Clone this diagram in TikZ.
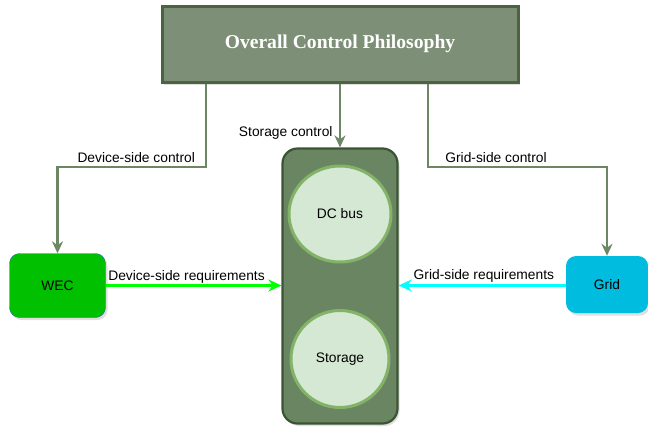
\documentclass[tikz,border=0pt]{standalone}
\usepackage{fontspec}
\setmainfont{Liberation Sans}
\newfontfamily\titlefont{Liberation Serif}
\usetikzlibrary{arrows.meta, shapes.geometric, shadows}

\definecolor{philofill}{HTML}{7D8F76}
\definecolor{philoline}{HTML}{4A6441}
\definecolor{ctrlline}{HTML}{6D8764}
\definecolor{bankfill}{HTML}{6A8561}
\definecolor{bankline}{HTML}{3B5534}
\definecolor{cellfill}{HTML}{D5E8D4}
\definecolor{cellline}{HTML}{82B366}
\definecolor{wecfill}{HTML}{00C000}
\definecolor{wecline}{HTML}{2F6DB5}
\definecolor{gridfill}{HTML}{00BCDF}
\definecolor{devneed}{HTML}{00FF00}
\definecolor{gridneed}{HTML}{00FFFF}

\tikzset{
  txt/.style={font=\fontsize{13.8}{16}\selectfont},
  shade/.style={drop shadow={opacity=0.25, shadow xshift=2pt, shadow yshift=-2.5pt}},
  ctrl/.style={draw=ctrlline, line width=2.2pt, -{Stealth[length=12pt, width=11pt]}},
  need/.style={line width=2.2pt, -{Stealth[length=13pt, width=12pt]}},
  cell/.style={ellipse, draw=cellline, fill=cellfill, line width=3pt, txt, inner sep=0pt}
}

\begin{document}
\begin{tikzpicture}[x=1pt, y=-1pt]
  \useasboundingbox (0,0) rectangle (648,429);

  % Top level box
  \node[draw=philoline, fill=philofill, line width=3pt, shade,
        minimum width=356pt, minimum height=76pt] (philo) at (340,44)
        {\titlefont\bfseries\fontsize{19.6}{22}\selectfont\color{white}Overall Control Philosophy};

  % Storage block with its two parts
  \node[draw=bankline, fill=bankfill, line width=2.2pt, rounded corners=15pt, shade,
        minimum width=115pt, minimum height=275pt] (bank) at (340,286) {};
  \node[cell, minimum width=102pt, minimum height=96pt, shade] (dcbus) at (340,214) {DC bus};
  \node[cell, minimum width=98pt, minimum height=97pt, shade] (store) at (340,359) {Storage};

  % Both ends
  \node[draw=wecline, fill=wecfill, rounded corners=10pt, shade, txt,
        minimum width=96pt, minimum height=64pt] (wec) at (57.5,285.5) {WEC};
  \node[fill=gridfill, rounded corners=10pt, shade, txt,
        minimum width=82pt, minimum height=57pt] (grid) at (607,284.5) {Grid};

  % Control paths
  \coordinate (devturn) at (206,167);
  \coordinate (gridturn) at (428,167);
  \draw[ctrl] (philo.south -| devturn) -- (devturn) -| (wec.north)
    node[pos=0.235, above, txt] {Device-side control};
  \draw[ctrl] (philo.south) -- (bank.north)
    node[pos=0.77, left=3pt, txt] {Storage control};
  \draw[ctrl] (philo.south -| gridturn) -- (gridturn) -| (grid.north)
    node[pos=0.19, above, txt] {Grid-side control};

  % Requirements
  \draw[need, draw=devneed, fill=devneed] (wec.east) -- (bank.west |- wec.east)
    node[pos=0.46, above, txt, inner sep=1pt] {Device-side requirements};
  \draw[need, draw=gridneed, fill=gridneed] (grid.west |- wec.east) -- (bank.east |- wec.east)
    node[pos=0.49, above, txt, inner sep=2pt] {Grid-side requirements};
\end{tikzpicture}
\end{document}
